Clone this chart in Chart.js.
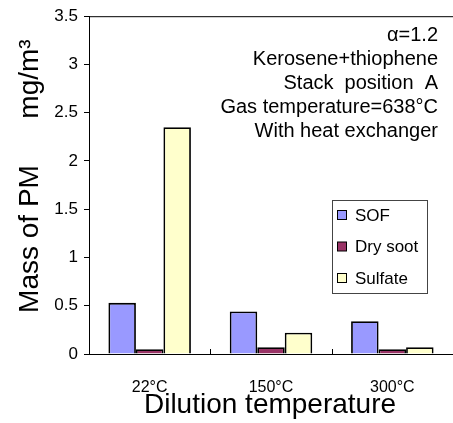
<!DOCTYPE html>
<html>
<head>
<meta charset="utf-8">
<script src="https://cdn.jsdelivr.net/npm/chart.js@4/dist/chart.umd.min.js"></script>
<style>
  body { margin: 0; background: #fff; }
  #wrap { width: 453px; height: 423px; }
</style>
</head>
<body>
<div id="wrap"><canvas id="pm-chart" width="453" height="423"></canvas></div>
<script>
const categories = ["22°C", "150°C", "300°C"];
const sof = [0.53, 0.44, 0.34];
const drySoot = [0.05, 0.07, 0.05];
const sulfate = [2.35, 0.22, 0.07];
const notes = ["\u03b1=1.2", "Kerosene+thiophene", "Stack  position  A", "Gas temperature=638°C", "With heat exchanger"];

const FONT = "'Liberation Sans', Arial, sans-serif";

// titles, notes, legend and inside x ticks
const extras = {
  id: 'extras',
  afterDraw(chart) {
    const ctx = chart.ctx;
    const area = chart.chartArea;
    const x = chart.scales.x;
    ctx.save();
    ctx.strokeStyle = '#000';
    ctx.lineWidth = 1;
    // top border
    ctx.beginPath();
    ctx.moveTo(area.left, area.top + 0.5);
    ctx.lineTo(chart.width, area.top + 0.5);
    ctx.stroke();
    // inside ticks between categories
    for (let i = 1; i < categories.length; i++) {
      const px = Math.round((x.getPixelForValue(i - 1) + x.getPixelForValue(i)) / 2) + 0.5;
      ctx.beginPath();
      ctx.moveTo(px, area.bottom);
      ctx.lineTo(px, area.bottom - 5);
      ctx.stroke();
    }

    ctx.fillStyle = '#000';
    // notes
    ctx.font = '20px ' + FONT;
    ctx.textAlign = 'right';
    ctx.textBaseline = 'middle';
    notes.forEach((t, i) => ctx.fillText(t, 438, 35 + i * 24.2));

    // legend
    ctx.lineWidth = 1;
    ctx.strokeStyle = '#444';
    ctx.strokeRect(332.5, 200.5, 95, 93);
    ctx.font = '17px ' + FONT;
    ctx.textAlign = 'left';
    chart.data.datasets.forEach((ds, i) => {
      const cy = 215 + i * 31.5;
      ctx.fillStyle = ds.backgroundColor;
      ctx.fillRect(337.5, cy - 4.5, 9, 9);
      ctx.strokeStyle = '#000';
      ctx.strokeRect(337.5, cy - 4.5, 9, 9);
      ctx.fillStyle = '#000';
      ctx.fillText(ds.label, 355, cy + 1);
    });

    // axis titles
    ctx.font = '28px ' + FONT;
    ctx.textAlign = 'center';
    ctx.fillText('Dilution temperature', 270, 405);
    ctx.translate(30, 0);
    ctx.rotate(-Math.PI / 2);
    ctx.fillText('Mass of PM', -239, 0);
    ctx.fillText('mg/m\u00b3', -79, 0);
    ctx.restore();
  }
};

new Chart(document.getElementById('pm-chart'), {
  type: 'bar',
  data: {
    labels: categories,
    datasets: [
      { label: 'SOF', data: sof, backgroundColor: '#9999FF' },
      { label: 'Dry soot', data: drySoot, backgroundColor: '#993366' },
      { label: 'Sulfate', data: sulfate, backgroundColor: '#FFFFCC' }
    ]
  },
  options: {
    responsive: false,
    animation: false,
    layout: { padding: { top: 14, right: 0, left: 0, bottom: 0 } },
    datasets: {
      bar: { borderColor: '#000', borderWidth: 1.8, categoryPercentage: 0.68, barPercentage: 1.0 }
    },
    plugins: {
      legend: { display: false },
      tooltip: { enabled: false }
    },
    scales: {
      x: {
        grid: { display: false },
        border: { color: '#000', width: 1 },
        ticks: { color: '#000', font: { family: FONT, size: 16 }, padding: 16 },
        afterFit(s) { s.height = 69; }
      },
      y: {
        min: 0,
        max: 3.5,
        grid: { drawOnChartArea: false, color: '#000', tickLength: 5 },
        border: { color: '#000', width: 1 },
        ticks: {
          stepSize: 0.5,
          color: '#000',
          font: { family: FONT, size: 17 },
          padding: 6,
          callback: v => String(v)
        },
        afterFit(s) { s.width = 89; }
      }
    }
  },
  plugins: [extras]
});
</script>
</body>
</html>
